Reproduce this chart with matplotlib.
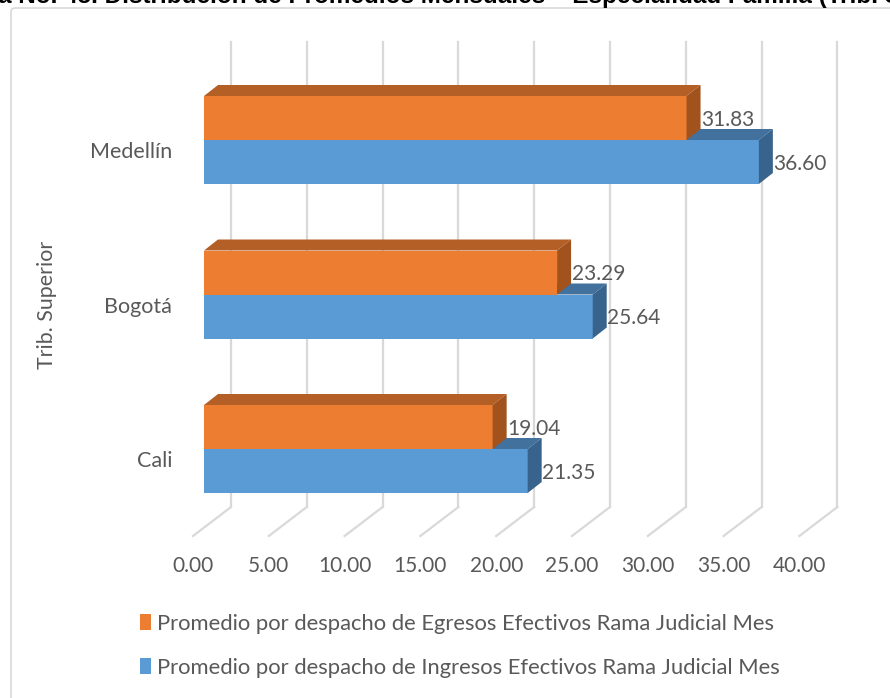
import numpy as np
import matplotlib
matplotlib.use("Agg")
import matplotlib.pyplot as plt
from matplotlib.patches import Polygon, Patch, FancyBboxPatch

# data
categories = ["Cali", "Bogotá", "Medellín"]
egresos = [19.04, 23.29, 31.83]
ingresos = [21.35, 25.64, 36.60]
ticks = [0, 5, 10, 15, 20, 25, 30, 35, 40]
label_egresos = "Promedio por despacho de Egresos Efectivos Rama Judicial Mes"
label_ingresos = "Promedio por despacho de Ingresos Efectivos Rama Judicial Mes"
title = "Gráfica No. 45. Distribución de Promedios Mensuales – Especialidad Familia (Trib. Superior)"

plt.rcParams['font.family'] = ['Lato', 'DejaVu Sans']
grey = '#595959'

W, H = 890, 698
fig = plt.figure(figsize=(W / 100, H / 100), dpi=100)
ax = fig.add_axes([0, 0, 1, 1])

# pixel layout -> data units (value along x, category along y)
px_per_unit = 15.16
px_per_cat = 154.5
x0_px, y0_px = 204, 449
ax.set_xlim((0 - x0_px) / px_per_unit, (W - x0_px) / px_per_unit)
ax.set_ylim((y0_px - H) / px_per_cat, (y0_px - 0) / px_per_cat)
ax.axis('off')

def cy(p):
    return (y0_px - p) / px_per_cat

def cx(p):
    return (p - x0_px) / px_per_unit

bar_h = 44 / px_per_cat
ddx, ddy = 14 / px_per_unit, 11 / px_per_cat
back_dx, back_y = 27 / px_per_unit, cy(507)
front_dx, front_y = -11 / px_per_unit, cy(536)
grid_top = cy(42)

# back wall gridlines + floor lines
for t in ticks:
    ax.plot([t + back_dx, t + back_dx], [back_y, grid_top], color='#D9D9D9', lw=1.6, zorder=1)
    ax.plot([t + back_dx, t + front_dx], [back_y, front_y], color='#D9D9D9', lw=1.6, zorder=1)
    ax.text(t + front_dx, cy(566), f"{t:.2f}", ha='center', va='center', color=grey, fontsize=15)

def bar3d(v, y0, y1, front, top, side, z):
    ax.add_patch(Polygon([(0, y0), (v, y0), (v, y1), (0, y1)], closed=True, fc=front, ec='none', zorder=z))
    ax.add_patch(Polygon([(0, y1), (v, y1), (v + ddx, y1 + ddy), (ddx, y1 + ddy)], closed=True, fc=top, ec='none', zorder=z))
    ax.add_patch(Polygon([(v, y0), (v, y1), (v + ddx, y1 + ddy), (v + ddx, y0 + ddy)], closed=True, fc=side, ec='none', zorder=z))
    ax.text(v + ddx + 0.05, (y0 + y1) / 2 - 0.012, f"{v:.2f}", ha='left', va='center', color=grey, fontsize=15, zorder=z + 1)

for i, cat in enumerate(categories):
    bar3d(ingresos[i], i - bar_h, i, '#5B9BD5', '#41719C', '#38638C', 3 + 2 * i)
    bar3d(egresos[i], i, i + bar_h, '#ED7D31', '#B45F26', '#A2521D', 4 + 2 * i)
    ax.text(cx(172), i - 0.08, cat, ha='right', va='center', color=grey, fontsize=15.5)

fig.text(47 / W, 1 - 305 / H, "Trib. Superior", rotation=90, ha='center', va='center', color=grey, fontsize=15.4)

# chart border
fig.patches.append(FancyBboxPatch((11 / W, -0.05), 1.2, 1 - 8 / H + 0.05, boxstyle="round,pad=0,rounding_size=0.005",
                                  transform=fig.transFigure, fc='none', ec='#D9D9D9', lw=1.2))

# cropped title
fig.text(-2 / W, 1 - 3.5 / H, title[6:], ha='left', va='baseline', fontsize=17.5, fontweight='bold',
         family='Liberation Sans', color='black')

handles = [Patch(fc='#ED7D31'), Patch(fc='#5B9BD5')]
fig.legend(handles, [label_egresos, label_ingresos], loc='upper left', bbox_to_anchor=(120 / W, 1 - 594 / H),
           frameon=False, fontsize=15.8, labelcolor=grey, handlelength=0.5, handleheight=0.75,
           handletextpad=0.3, labelspacing=1.1)

fig.savefig("out.png", dpi=100)
